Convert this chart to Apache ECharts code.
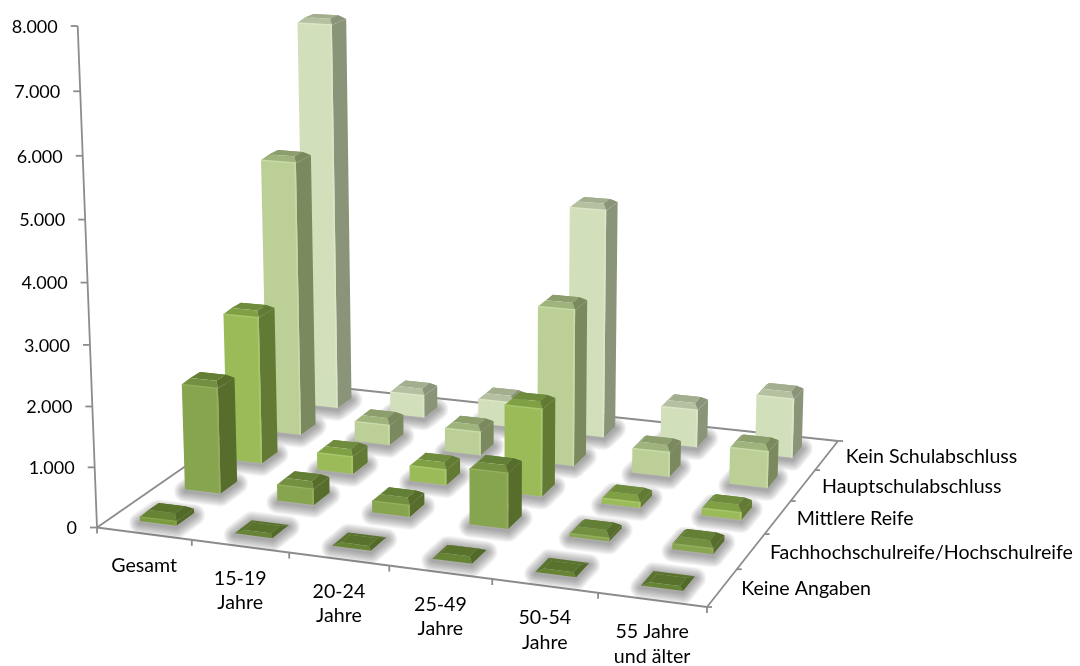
<!DOCTYPE html>
<html>
<head>
<meta charset="utf-8">
<style>html,body{margin:0;padding:0;background:#fff}#chart{width:1080px;height:666px}</style>
<script src="https://cdn.jsdelivr.net/npm/echarts@6/dist/echarts.min.js"></script>
</head>
<body>
<div id="chart"></div>
<script>
// Kategorien und Werte je Schulabschluss
const altersgruppen = ['Gesamt', '15-19\nJahre', '20-24\nJahre', '25-49\nJahre', '50-54\nJahre', '55 Jahre\nund älter'];
const abschluesse = ['Keine Angaben', 'Fachhochschulreife/Hochschulreife', 'Mittlere Reife', 'Hauptschulabschluss', 'Kein Schulabschluss'];
const yWerte = [0, 1000, 2000, 3000, 4000, 5000, 6000, 7000, 8000];
const yBeschriftung = ['0', '1.000', '2.000', '3.000', '4.000', '5.000', '6.000', '7.000', '8.000'];

const keineAngaben = [150, 20, 20, 60, 15, 15];
const hochschulreife = [1870, 350, 270, 1000, 130, 170];
const mittlereReife = [2620, 380, 340, 1560, 170, 200];
const hauptschule = [4900, 430, 490, 2780, 500, 700];
const keinAbschluss = [6985, 480, 520, 4090, 740, 1110];
const zeilen = [keinAbschluss, hauptschule, mittlereReife, hochschulreife, keineAngaben];

// Flächenfarben je Zeile, von hinten nach vorn
const farben = [
  { front: '#d2dfbb', side: '#8a9479', top: '#a3ae8f', band: '#b4c0a0', licht: '#dbe5c8' },
  { front: '#bbcf96', side: '#7a8a5e', top: '#8c9e6c', band: '#9fb37c', licht: '#c8daa8' },
  { front: '#9bbb59', side: '#637a34', top: '#6f8b3c', band: '#80a044', licht: '#a8c66c' },
  { front: '#87a44f', side: '#566d2c', top: '#637f36', band: '#72903f', licht: '#94ae5e' },
  { front: '#7a9a3e', side: '#526a28', top: '#5a732c', band: '#668433', licht: '#86a44a' }
];

const FONT = '19.6px Lato, "Open Sans", sans-serif';
const FONT_Y = '18px Lato, "Open Sans", sans-serif';
const grid = { left: 100, top: 50, width: 800, height: 500 };

// Perspektive: Bodenviereck plus Fluchtpunkt der Senkrechten
const ecken = [[97, 527.5], [707, 607], [838, 441], [304, 384]];
const flucht = [500, 11000];
const alpha = -0.0457;
const H = (function () {
  const [p0, p1, p2, p3] = ecken;
  const dx1 = p1[0] - p2[0], dx2 = p3[0] - p2[0], sx = p0[0] - p1[0] + p2[0] - p3[0];
  const dy1 = p1[1] - p2[1], dy2 = p3[1] - p2[1], sy = p0[1] - p1[1] + p2[1] - p3[1];
  const det = dx1 * dy2 - dx2 * dy1;
  const g = (sx * dy2 - dx2 * sy) / det, h = (dx1 * sy - sx * dy1) / det;
  return { a: p1[0] - p0[0] + g * p1[0], b: p3[0] - p0[0] + h * p3[0], c: p0[0],
           d: p1[1] - p0[1] + g * p1[1], e: p3[1] - p0[1] + h * p3[1], f: p0[1], g, h };
})();

// Kategorie, Zeile und Wert laufen über die Achsen des Grids in die Projektion
function projektor(api) {
  return function (kat, zeile, wert) {
    const q = api.coord([kat, wert]);
    const u = (q[0] - grid.left) / grid.width;
    const z = (grid.top + grid.height - q[1]) / grid.height;
    const v = zeile / abschluesse.length;
    const w = H.g * u + H.h * v + 1 + alpha * z;
    return [(H.a * u + H.b * v + H.c + alpha * z * flucht[0]) / w,
            (H.d * u + H.e * v + H.f + alpha * z * flucht[1]) / w];
  };
}

function flaeche(punkte, fill) {
  return { type: 'polygon', shape: { points: punkte }, style: { fill: fill }, silent: true };
}

const RAND = 0.305, INSET_U = 0.055, INSET_V = 0.085, FASE = 80, KANTE = 0.018;

// Weicher Schlagschatten auf dem Boden, aus übereinanderliegenden Konturen
const schatten = {
  type: 'custom', coordinateSystem: 'cartesian2d', clip: false, silent: true, z: 2,
  data: zeilen.reduce((alle, werte, index) => alle.concat(werte.map((w, i) => [i, w, abschluesse.length - 1 - index])), []),
  encode: { x: 0, y: 1 },
  renderItem: function (params, api) {
    const P = projektor(api);
    const i = api.value(0), zeile = api.value(2);
    const u0 = i + RAND, u1 = i + 1 - RAND, v0 = zeile + RAND, v1 = zeile + 1 - RAND;
    const punkte = [P(u0, v0, 0), P(u1, v0, 0), P(u1, v1, 0), P(u0, v1, 0)].map(p => [p[0], p[1] + 2]);
    const lagen = [];
    for (let d = 22; d >= 2; d -= 2) {
      lagen.push({ type: 'polygon', silent: true, shape: { points: punkte },
        style: { fill: 'none', stroke: 'rgba(70,70,70,0.055)', lineWidth: d, lineJoin: 'round' } });
    }
    return { type: 'group', children: lagen };
  }
};

function balkenSerie(werte, index) {
  const zeile = abschluesse.length - 1 - index;
  const c = farben[index];
  return {
    type: 'custom', coordinateSystem: 'cartesian2d', clip: false, silent: true, z: 5 + index,
    name: abschluesse[zeile],
    data: werte.map((w, i) => [i, w]),
    encode: { x: 0, y: 1 },
    renderItem: function (params, api) {
      const P = projektor(api);
      const i = api.value(0), h = api.value(1);
      const u0 = i + RAND, u1 = i + 1 - RAND, v0 = zeile + RAND, v1 = zeile + 1 - RAND;
      const f = Math.min(h, FASE), k = h - f;
      const a = u0 + INSET_U, b = u1 - INSET_U, m = v0 + INSET_V, n = v1 - INSET_V;
      const kinder = [
        flaeche([P(u0, v0, 0), P(u1, v0, 0), P(u1, v0, k), P(u0, v0, k)], c.front),
        flaeche([P(u1, v0, 0), P(u1, v1, 0), P(u1, v1, k), P(u1, v0, k)], c.side),
        flaeche([P(u0, v1, k), P(u1, v1, k), P(b, n, h), P(a, n, h)], c.top),
        flaeche([P(u0, v0, k), P(u0, v1, k), P(a, n, h), P(a, m, h)], c.top),
        flaeche([P(a, m, h), P(b, m, h), P(b, n, h), P(a, n, h)], c.top),
        flaeche([P(u0, v0, k), P(u1, v0, k), P(b, m, h), P(a, m, h)], c.band),
        flaeche([P(u1, v0, k), P(u1, v1, k), P(b, n, h), P(b, m, h)], c.side)
      ];
      if (k > 0) {
        // Heller Saum an der oberen und rechten Vorderkante
        kinder.push(flaeche([P(u1 - KANTE, v0, 0), P(u1, v0, 0), P(u1, v0, k), P(u1 - KANTE, v0, k)], c.licht));
        kinder.push({ type: 'line', silent: true, shape: (function () {
          const l = P(u0, v0, k), r = P(u1, v0, k);
          return { x1: l[0], y1: l[1], x2: r[0], y2: r[1] };
        })(), style: { stroke: c.licht, lineWidth: 1.5, fill: 'none' } });
      }
      return { type: 'group', children: kinder };
    }
  };
}

const LINIE = { stroke: '#8c8c8c', lineWidth: 1.8, fill: 'none' };
function linie(a, b) {
  return { type: 'line', shape: { x1: a[0], y1: a[1], x2: b[0], y2: b[1] }, style: LINIE, silent: true };
}

// Boden, Wandachse und Striche
const geruest = {
  type: 'custom', coordinateSystem: 'cartesian2d', clip: false, silent: true, z: 1,
  data: [[0, 0]], encode: { x: 0, y: 1 },
  renderItem: function (params, api) {
    const P = projektor(api), nk = altersgruppen.length, nz = abschluesse.length;
    const kinder = [
      linie(P(0, 0, 0), P(0, 0, 8000)),
      linie(P(0, 0, 0), P(nk, 0, 0)),
      linie(P(nk, 0, 0), P(nk, nz, 0)),
      linie(P(nk, nz, 0), P(0, nz, 0)),
      linie(P(0, nz, 0), P(0, 0, 0))
    ];
    for (let i = 0; i <= nk; i++) {
      const p = P(i, 0, 0);
      kinder.push(linie(p, [p[0], p[1] + 6]));
    }
    for (let j = 0; j <= nz; j++) {
      const p = P(nk, j, 0);
      kinder.push(linie(p, [p[0] + 5, p[1]]));
    }
    return { type: 'group', children: kinder };
  }
};

function text(t, x, y, align, vAlign, font) {
  return { type: 'text', silent: true, style: { text: t, x: x, y: y, fill: '#000', font: font || FONT, align: align, verticalAlign: vAlign, lineHeight: 24.5 } };
}

const yAchse = {
  type: 'custom', coordinateSystem: 'cartesian2d', clip: false, silent: true, z: 20,
  data: yWerte.map((w, i) => [0, w, i]), encode: { x: 0, y: 1 },
  renderItem: function (params, api) {
    const p = projektor(api)(0, 0, api.value(1));
    return { type: 'group', children: [
      linie(p, [p[0] - 7, p[1]]),
      text(yBeschriftung[api.value(2)], p[0] - 20, p[1] + 1, 'right', 'middle', FONT_Y)
    ] };
  }
};

const xBeschriftung = {
  type: 'custom', coordinateSystem: 'cartesian2d', clip: false, silent: true, z: 20,
  data: altersgruppen.map((n, i) => [i + 0.5, 0, i]), encode: { x: 0, y: 1 },
  renderItem: function (params, api) {
    const p = projektor(api)(api.value(0), 0, 0);
    return text(altersgruppen[api.value(2)], p[0], p[1] + 20, 'center', 'top');
  }
};

const zBeschriftung = {
  type: 'custom', coordinateSystem: 'cartesian2d', clip: false, silent: true, z: 20,
  data: abschluesse.map((n, i) => [6, 0, i]), encode: { x: 0, y: 1 },
  renderItem: function (params, api) {
    const j = api.value(2);
    const p = projektor(api)(6, j + 0.5, 0);
    return text(abschluesse[j], p[0] + 19, p[1] + 1, 'left', 'middle');
  }
};

const chart = echarts.init(document.getElementById('chart'));
chart.setOption({
  animation: false,
  backgroundColor: '#fff',
  grid: grid,
  xAxis: { type: 'value', min: 0, max: 6, show: false },
  yAxis: { type: 'value', min: 0, max: 8000, show: false },
  series: [geruest, schatten].concat(zeilen.map(balkenSerie), [yAchse, xBeschriftung, zBeschriftung])
});
</script>
</body>
</html>
